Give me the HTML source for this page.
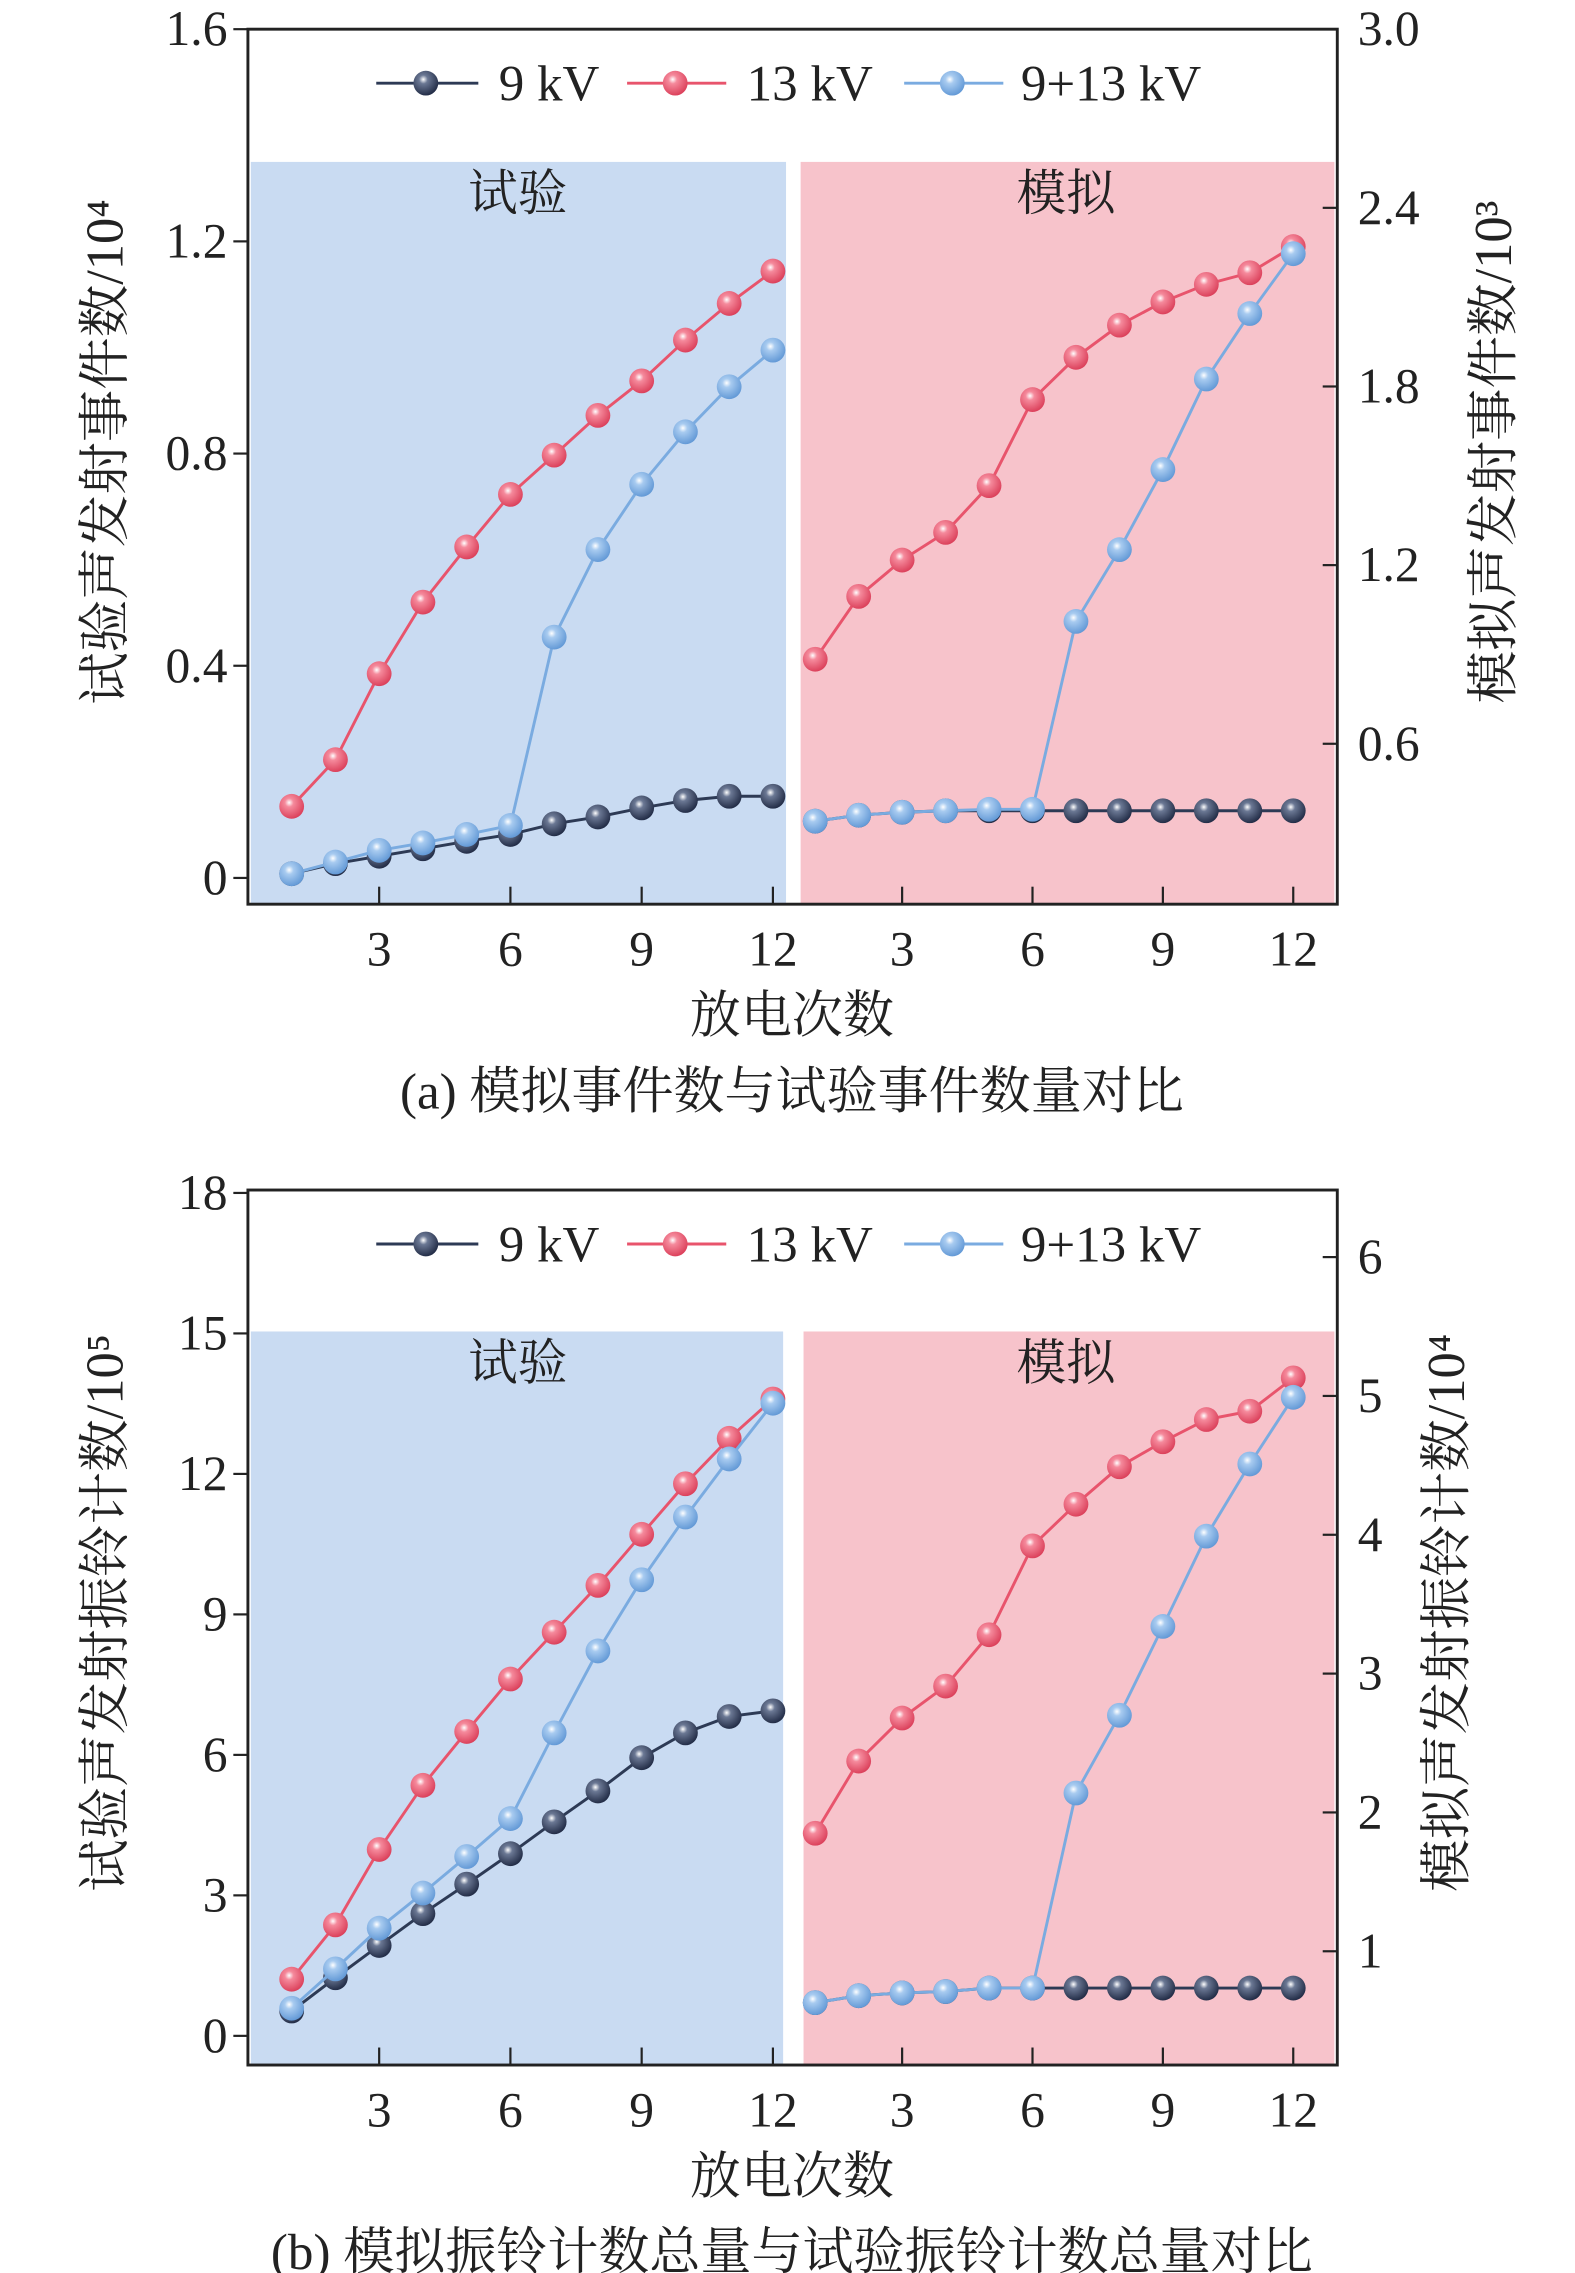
<!DOCTYPE html>
<html><head><meta charset="utf-8"><style>
html,body{margin:0;padding:0;background:#fff}
svg{display:block}
text{font-family:"Liberation Serif","Noto Serif CJK SC","Noto Sans CJK SC",serif;fill:#222}
</style></head><body>
<svg id="fig" xmlns="http://www.w3.org/2000/svg" width="1575" height="2273" viewBox="0 0 1080 1558.6">
<defs>
<radialGradient id="gDark" cx="0.4" cy="0.35" r="0.7"><stop offset="0" stop-color="#ffffff"/><stop offset="0.25" stop-color="#6b7894"/><stop offset="1" stop-color="#1c2640"/></radialGradient>
<radialGradient id="gRed" cx="0.4" cy="0.35" r="0.7"><stop offset="0" stop-color="#ffffff"/><stop offset="0.25" stop-color="#f58a9c"/><stop offset="1" stop-color="#d93a55"/></radialGradient>
<radialGradient id="gBlue" cx="0.4" cy="0.35" r="0.7"><stop offset="0" stop-color="#ffffff"/><stop offset="0.25" stop-color="#a8cbf0"/><stop offset="1" stop-color="#5d95d4"/></radialGradient>
</defs>
</svg>
<script>
// ---- data ----
const discharges = [1,2,3,4,5,6,7,8,9,10,11,12];
const seriesNames = ["9 kV","13 kV","9+13 kV"];
// chart (a) experimental, 10^4
const aExp9 = [0.008,0.027,0.041,0.055,0.069,0.082,0.102,0.115,0.132,0.146,0.154,0.154];
const aExp13 = [0.135,0.223,0.385,0.52,0.624,0.723,0.797,0.872,0.937,1.014,1.083,1.144];
const aExp913 = [0.008,0.03,0.052,0.066,0.082,0.099,0.454,0.619,0.742,0.841,0.926,0.995];
// chart (a) simulated, 10^3
const aSim9 = [0.34,0.36,0.37,0.375,0.375,0.375,0.375,0.375,0.375,0.375,0.375,0.375];
const aSim13 = [0.884,1.095,1.217,1.31,1.467,1.756,1.898,2.006,2.084,2.143,2.182,2.27];
const aSim913 = [0.34,0.36,0.37,0.375,0.38,0.38,1.011,1.252,1.521,1.825,2.045,2.246];
const aLeftTicks = [0,0.4,0.8,1.2,1.6];
const aLeftLabels = ["0","0.4","0.8","1.2","1.6"];
const aRightTicks = [0.6,1.2,1.8,2.4,3.0];
const aRightLabels = ["0.6","1.2","1.8","2.4","3.0"];
// chart (b) experimental, 10^5
const bExp9 = [0.53,1.24,1.93,2.61,3.24,3.89,4.57,5.23,5.94,6.47,6.82,6.94];
const bExp13 = [1.21,2.37,3.98,5.35,6.5,7.62,8.62,9.62,10.71,11.79,12.76,13.6];
const bExp913 = [0.59,1.43,2.3,3.05,3.83,4.64,6.47,8.22,9.74,11.08,12.32,13.51];
// chart (b) simulated, 10^4
const bSim9 = [0.63,0.68,0.7,0.71,0.735,0.735,0.735,0.735,0.735,0.735,0.735,0.735];
const bSim13 = [1.85,2.37,2.68,2.91,3.28,3.92,4.22,4.49,4.67,4.83,4.89,5.13];
const bSim913 = [0.63,0.68,0.7,0.71,0.735,0.735,2.14,2.7,3.34,3.99,4.51,4.99];
const bLeftTicks = [0,3,6,9,12,15,18];
const bLeftLabels = ["0","3","6","9","12","15","18"];
const bRightTicks = [1,2,3,4,5,6];
const bRightLabels = ["1","2","3","4","5","6"];
const xTicks = [3,6,9,12];
const xTickLabels = ["3","6","9","12"];

const NS="http://www.w3.org/2000/svg";
const svg=document.getElementById('fig');
function mk(tag,attrs,parent,txt){const e=document.createElementNS(NS,tag);for(const k in attrs)e.setAttribute(k,attrs[k]);if(txt!==undefined)e.textContent=txt;(parent||svg).appendChild(e);return e;}
const colors=["#2d3a55","#e8546c","#7aabe0"];
const grads=["url(#gDark)","url(#gRed)","url(#gBlue)"];

function drawChart(cfg){
  const g=mk('g',{});
  
  
  const L=170,R=917,T=cfg.top,B=cfg.top+600;
  const yL=v=>cfg.l0+(v-cfg.lmin)*(cfg.l1-cfg.l0)/(cfg.lmax-cfg.lmin);
  const yR=v=>cfg.r0+(v-cfg.rmin)*(cfg.r1-cfg.r0)/(cfg.rmax-cfg.rmin);
  const xL=d=>200+(d-1)*30;
  const xR=d=>559+(d-1)*29.8;
  let e=mk('rect',{x:172,y:cfg.bgTop,width:cfg.blueW,height:B-cfg.bgTop,fill:'#c9dbf2'},g);
  
  e=mk('rect',{x:cfg.pinkX,y:cfg.bgTop,width:915-cfg.pinkX,height:B-cfg.bgTop,fill:'#f7c3cb'},g);
  
  e=mk('text',{x:355,y:cfg.bgTop+33,'font-size':34,'text-anchor':'middle'},g,'试验');
  
  e=mk('text',{x:731,y:cfg.bgTop+33,'font-size':34,'text-anchor':'middle'},g,'模拟');
  
  e=mk('rect',{x:L,y:T,width:R-L,height:B-T,fill:'none',stroke:'#222','stroke-width':2},g);
  
  cfg.lt.forEach((v,i)=>{const y=yL(v);
    mk('line',{x1:L-10,x2:L,y1:y,y2:y,stroke:'#222','stroke-width':1.5},g);
    const t=mk('text',{x:L-14,y:y+11,'font-size':34,'text-anchor':'end'},g,cfg.ll[i]);
    });
  cfg.rt.forEach((v,i)=>{const y=yR(v);
    mk('line',{x1:R-10,x2:R,y1:y,y2:y,stroke:'#222','stroke-width':1.5},g);
    const t=mk('text',{x:R+14,y:y+11,'font-size':34,'text-anchor':'start'},g,cfg.rl[i]);
    });
  xTicks.forEach((d,i)=>{[xL(d),xR(d)].forEach(x=>{
    mk('line',{x1:x,x2:x,y1:B-12,y2:B,stroke:'#222','stroke-width':1.5},g);
    const t=mk('text',{x:x,y:B+42,'font-size':34,'text-anchor':'middle'},g,xTickLabels[i]);
    });});
  const draw=(arr,xf,yf,si,name)=>{
    const pts=arr.map((v,i)=>xf(discharges[i])+','+yf(v)).join(' ');
    const pl=mk('polyline',{points:pts,fill:'none',stroke:colors[si],'stroke-width':2},g);
    
    arr.forEach((v,i)=>{const c=mk('circle',{cx:xf(discharges[i]),cy:yf(v),r:8.5,fill:grads[si]},g);
      });
  };
  draw(cfg.e13,xL,yL,1,'exp-13kv');draw(cfg.e9,xL,yL,0,'exp-9kv');draw(cfg.e913,xL,yL,2,'exp-9-13kv');
  draw(cfg.s13,xR,yR,1,'sim-13kv');draw(cfg.s9,xR,yR,0,'sim-9kv');draw(cfg.s913,xR,yR,2,'sim-9-13kv');
  const ly=T+37;
  [[258,328,292,342],[430,498,463,512],[620,688,653,700]].forEach((p,si)=>{
    const lg=mk('g',{},g);
    
    mk('line',{x1:p[0],x2:p[1],y1:ly,y2:ly,stroke:colors[si],'stroke-width':2},lg);
    mk('circle',{cx:p[2],cy:ly,r:8.5,fill:grads[si]},lg);
    mk('text',{x:p[3],y:ly+12,'font-size':35},lg,seriesNames[si]);});
  e=mk('text',{x:0,y:0,'font-size':36,'text-anchor':'middle',transform:`translate(84,${(T+B)/2-10}) rotate(-90)`},g,cfg.ytitleL);
  
  e=mk('text',{x:0,y:0,'font-size':36,'text-anchor':'middle',transform:`translate(${cfg.rtx},${(T+B)/2-10}) rotate(-90)`},g,cfg.ytitleR);
  
  e=mk('text',{x:543,y:B+88,'font-size':35,'text-anchor':'middle'},g,'放电次数');
  
  e=mk('text',{x:543,y:B+140,'font-size':35,'text-anchor':'middle'},g,cfg.caption);
  
}
drawChart({name:'chart-a',top:20,bgTop:111,blueW:367,pinkX:549,
  lmin:0,lmax:1.6,l0:602,l1:20,rmin:0.6,rmax:3.0,r0:510,r1:20,
  lt:aLeftTicks,ll:aLeftLabels,rt:aRightTicks,rl:aRightLabels,
  e9:aExp9,e13:aExp13,e913:aExp913,s9:aSim9,s13:aSim13,s913:aSim913,
  ytitleL:'试验声发射事件数/10⁴',ytitleR:'模拟声发射事件数/10³',rtx:1036,caption:'(a) 模拟事件数与试验事件数量对比'});
drawChart({name:'chart-b',top:816,bgTop:913,blueW:365,pinkX:551,
  lmin:0,lmax:18,l0:1396,l1:818,rmin:1,rmax:6,r0:1338,r1:862,
  lt:bLeftTicks,ll:bLeftLabels,rt:bRightTicks,rl:bRightLabels,
  e9:bExp9,e13:bExp13,e913:bExp913,s9:bSim9,s13:bSim13,s913:bSim913,
  ytitleL:'试验声发射振铃计数/10⁵',ytitleR:'模拟声发射振铃计数/10⁴',rtx:1004,caption:'(b) 模拟振铃计数总量与试验振铃计数总量对比'});
</script>
</body></html>
